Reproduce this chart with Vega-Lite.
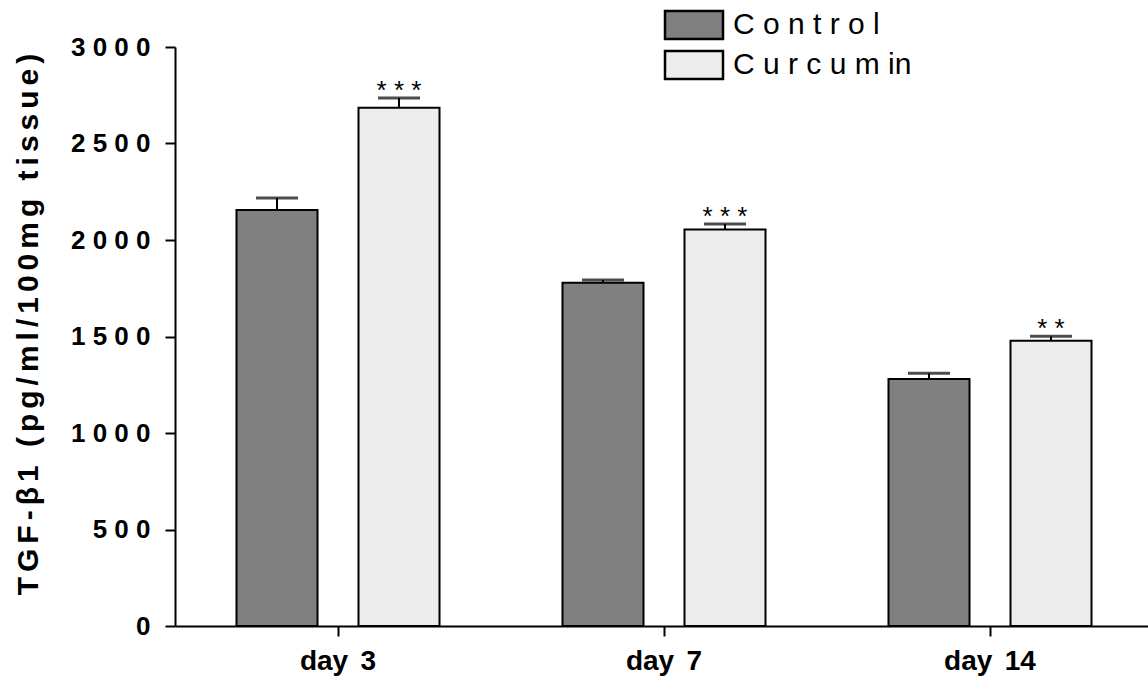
{
  "$schema": "https://vega.github.io/schema/vega-lite/v6.json",
  "width": 973,
  "height": 579,
  "autosize": {"type": "none"},
  "padding": {"left": 175, "top": 47, "right": 0, "bottom": 53},
  "background": "white",
  "config": {"view": {"stroke": null}, "font": "Liberation Sans"},
  "data": {
    "values": [
      {"day": "day 3", "group": "Control", "value": 2155, "upper": 2218, "stars": ""},
      {"day": "day 3", "group": "Curcumin", "value": 2685, "upper": 2736, "stars": "* * *"},
      {"day": "day 7", "group": "Control", "value": 1779, "upper": 1793, "stars": ""},
      {"day": "day 7", "group": "Curcumin", "value": 2055, "upper": 2083, "stars": "* * *"},
      {"day": "day 14", "group": "Control", "value": 1280, "upper": 1309, "stars": ""},
      {"day": "day 14", "group": "Curcumin", "value": 1478, "upper": 1501, "stars": "* *"}
    ]
  },
  "encoding": {
    "x": {
      "field": "day",
      "type": "nominal",
      "sort": ["day 3", "day 7", "day 14"],
      "scale": {"range": [0, 978], "paddingInner": 0, "paddingOuter": 0},
      "axis": {
        "title": null,
        "labelAngle": 0,
        "labelExpr": "replace(datum.label, ' ', ' \u2006')",
        "labelFont": "Liberation Sans",
        "labelFontSize": 28,
        "labelFontWeight": "bold",
        "labelColor": "black",
        "labelPadding": 11,
        "domainColor": "black",
        "domainWidth": 2,
        "tickColor": "black",
        "tickWidth": 2,
        "tickSize": 10
      }
    },
    "xOffset": {
      "field": "group",
      "type": "nominal",
      "sort": ["Control", "Curcumin"],
      "scale": {"paddingInner": 0.336, "paddingOuter": 0.504}
    }
  },
  "layer": [
    {
      "mark": {"type": "bar", "stroke": "black", "strokeWidth": 2},
      "encoding": {
        "y": {
          "field": "value",
          "type": "quantitative",
          "scale": {"domain": [0, 3000], "nice": false},
          "axis": {
            "values": [0, 500, 1000, 1500, 2000, 2500, 3000],
            "format": "d",
            "labelExpr": "join(split(datum.label, ''), ' ')",
            "grid": false,
            "labelFont": "Liberation Sans",
            "labelFontSize": 26,
            "labelFontWeight": "bold",
            "labelColor": "black",
            "labelPadding": 15,
            "domainColor": "black",
            "domainWidth": 2,
            "tickColor": "black",
            "tickWidth": 2,
            "tickSize": 10,
            "title": "T\u2006G\u2006F\u2006-\u2006β\u20061\u2006 \u2006(\u2006p\u2006g\u2006/\u2006m\u2006l\u2006/\u20061\u20060\u20060\u2006m\u2006g\u2006 \u2006t\u2006i\u2006s\u2006s\u2006u\u2006e\u2006)",
            "titleFont": "Liberation Sans",
            "titleFontSize": 30,
            "titleFontWeight": "bold",
            "titleColor": "black",
            "titleAngle": -90,
            "titleAlign": "center",
            "titleBaseline": "middle",
            "titleX": -147,
            "titleY": 277
          }
        },
        "fill": {
          "field": "group",
          "type": "nominal",
          "scale": {"domain": ["Control", "Curcumin"], "range": ["#808080", "#ececec"]},
          "legend": {
            "orient": "none",
            "legendX": 503,
            "legendY": -38,
            "title": null,
            "symbolType": "M-2,-0.966H2V0.966H-2Z",
            "symbolSize": 841,
            "symbolStrokeColor": "black",
            "symbolStrokeWidth": 2.5,
            "symbolOpacity": 1,
            "labelFont": "Liberation Sans",
            "labelFontSize": 30,
            "labelColor": "black",
            "labelOffset": 23,
            "labelLimit": 400,
            "rowPadding": 0,
            "labelExpr": "datum.label == 'Control' ? 'C o n t r o l' : 'C u r c u m in'"
          }
        }
      }
    },
    {
      "mark": {"type": "rule", "color": "black", "strokeWidth": 2},
      "encoding": {
        "y": {"field": "value", "type": "quantitative"},
        "y2": {"field": "upper"}
      }
    },
    {
      "mark": {"type": "tick", "orient": "horizontal", "color": "black", "thickness": 3, "size": 42},
      "encoding": {
        "y": {"field": "upper", "type": "quantitative"}
      }
    },
    {
      "mark": {"type": "text", "font": "Liberation Sans", "fontSize": 26, "baseline": "alphabetic", "dy": 1, "color": "black"},
      "encoding": {
        "y": {"field": "upper", "type": "quantitative"},
        "text": {"field": "stars"}
      }
    }
  ]
}
